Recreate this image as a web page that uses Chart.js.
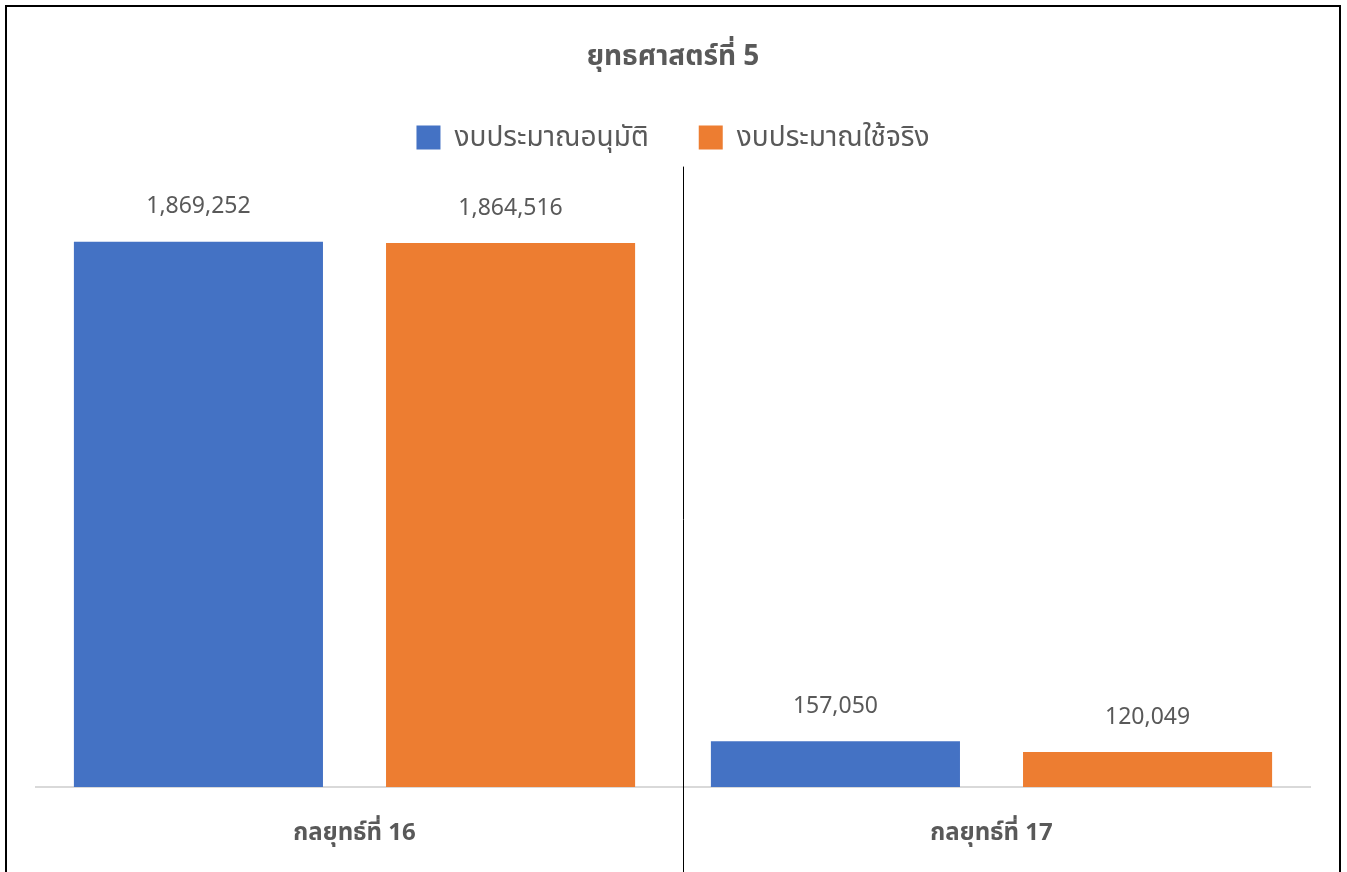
<!DOCTYPE html>
<html>
<head>
<meta charset="utf-8">
<script src="https://cdn.jsdelivr.net/npm/chart.js@4.4.1/dist/chart.umd.min.js"></script>
<style>
  html, body { margin: 0; padding: 0; background: #fff; }
  #wrap { width: 1347px; height: 872px; }
</style>
</head>
<body>
<div id="wrap"><canvas id="chart"></canvas></div>
<script>
const categories = ['กลยุทธ์ที่ 16', 'กลยุทธ์ที่ 17'];
const approved = [1869252, 157050];
const actual = [1864516, 120049];
const seriesNames = ['งบประมาณอนุมัติ', 'งบประมาณใช้จริง'];
const chartTitle = 'ยุทธศาสตร์ที่ 5';

const FONT = '"Noto Sans", "Noto Sans Thai", Tahoma, sans-serif';
const GREY = '#595959';

// value labels above each bar
const barLabels = {
  id: 'barLabels',
  afterDatasetsDraw(chart) {
    const ctx = chart.ctx;
    ctx.save();
    ctx.font = `23px ${FONT}`;
    ctx.fillStyle = GREY;
    ctx.textAlign = 'center';
    ctx.textBaseline = 'middle';
    chart.data.datasets.forEach((ds, i) => {
      chart.getDatasetMeta(i).data.forEach((bar, j) => {
        ctx.fillText(ds.data[j].toLocaleString('en-US'), bar.x, bar.y - 35);
      });
    });
    ctx.restore();
  }
};

// frame + vertical separator
const decorations = {
  id: 'decorations',
  beforeInit(chart) {
    const fit = chart.legend.fit;
    chart.legend.fit = function () {
      fit.bind(chart.legend)();
      this.height += 42;
    };
  },
  afterDraw(chart) {
    const ctx = chart.ctx;
    const x = chart.scales.x;
    const sep = Math.round((x.getPixelForValue(0) + x.getPixelForValue(1)) / 2) + 10.5;
    ctx.save();
    ctx.strokeStyle = '#000';
    ctx.lineWidth = 1;
    ctx.beginPath();
    ctx.moveTo(sep, chart.chartArea.top - 37);
    ctx.lineTo(sep, chart.height);
    ctx.stroke();
    ctx.lineWidth = 2;
    ctx.beginPath();
    ctx.moveTo(6, chart.height);
    ctx.lineTo(6, 6);
    ctx.lineTo(1340, 6);
    ctx.lineTo(1340, chart.height);
    ctx.stroke();
    ctx.restore();
  }
};

new Chart(document.getElementById('chart'), {
  type: 'bar',
  data: {
    labels: categories,
    datasets: [
      { label: seriesNames[0], data: approved, backgroundColor: '#4472c4' },
      { label: seriesNames[1], data: actual, backgroundColor: '#ed7d31' },
    ],
  },
  options: {
    responsive: true,
    maintainAspectRatio: false,
    animation: false,
    datasets: {
      bar: { categoryPercentage: 0.98, barPercentage: 0.798 },
    },
    layout: { padding: { left: 36, right: 37, top: 0, bottom: 0 } },
    scales: {
      x: {
        grid: { display: false, drawTicks: false },
        border: { display: true, color: '#d9d9d9', width: 2 },
        ticks: {
          color: GREY,
          padding: 32,
          font: { family: FONT, size: 24, weight: 'bold' },
        },
        afterFit(scale) {
          scale.height = 85;
        },
      },
      y: {
        display: false,
        min: 0,
        max: 2000000,
      },
    },
    plugins: {
      title: {
        display: true,
        text: chartTitle,
        color: GREY,
        font: { family: FONT, size: 28, weight: 'bold' },
        padding: { top: 40, bottom: 0 },
      },
      legend: {
        position: 'top',
        labels: {
          color: GREY,
          boxWidth: 24,
          boxHeight: 24,
          padding: 50,
          font: { family: FONT, size: 28 },
        },
      },
      tooltip: { enabled: false },
    },
  },
  plugins: [barLabels, decorations],
});
</script>
</body>
</html>
